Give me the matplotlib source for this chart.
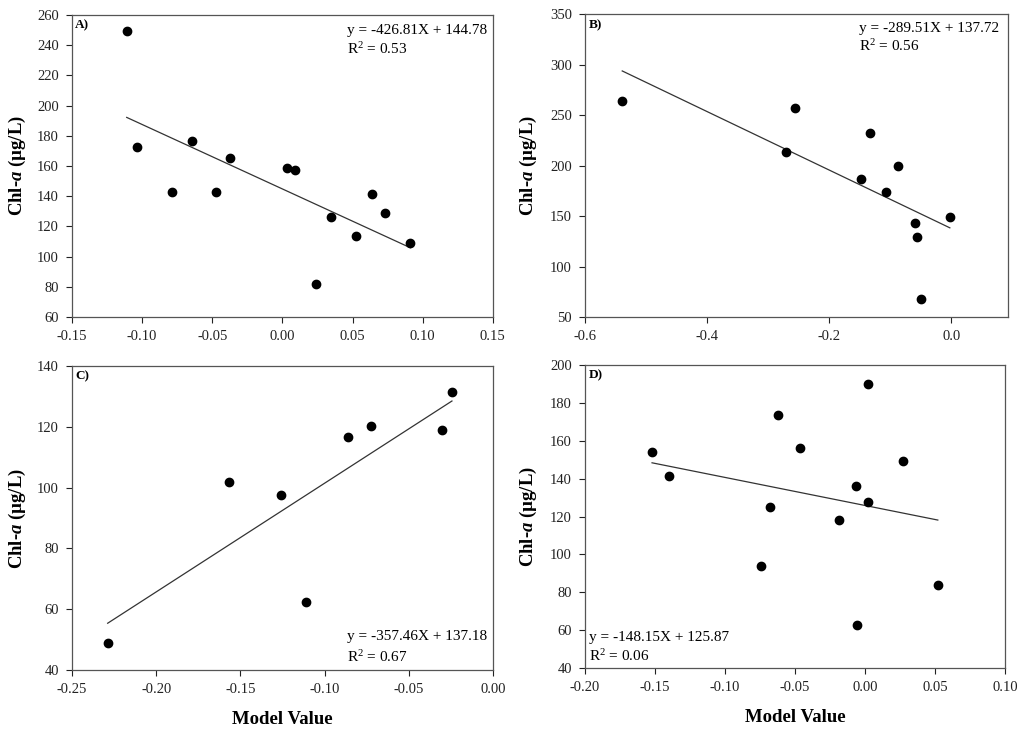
import numpy as np
import matplotlib
matplotlib.use("Agg")
import matplotlib.pyplot as plt

plt.rcParams['font.family'] = ['Liberation Serif', 'DejaVu Serif']
plt.rcParams['mathtext.fontset'] = 'custom'
plt.rcParams['mathtext.rm'] = 'Liberation Serif'
plt.rcParams['mathtext.it'] = 'Liberation Serif:italic:bold'
plt.rcParams['mathtext.bf'] = 'Liberation Serif:bold'

# panel A
xa = [-0.111, -0.1035, -0.0786, -0.0643, -0.047, -0.0377, 0.0036, 0.0088,
      0.0237, 0.0349, 0.0522, 0.0639, 0.0729, 0.0912]
ya = [249.5, 172.7, 142.5, 176.6, 142.9, 165.4, 158.6, 157.0,
      81.6, 126.4, 113.6, 141.4, 128.8, 109.0]
slope_a, icpt_a = -426.81, 144.78
eq_a = ["y = -426.81X + 144.78", "R$^2$ = 0.53"]

# panel B
xb = [-0.539, -0.270, -0.2564, -0.1474, -0.1337, -0.1074, -0.0871,
      -0.0586, -0.0553, -0.0488, -0.0022]
yb = [264.4, 213.9, 257.2, 186.5, 232.4, 173.6, 199.4,
      142.9, 129.6, 67.5, 149.5]
slope_b, icpt_b = -289.51, 137.72
eq_b = ["y = -289.51X + 137.72", "R$^2$ = 0.56"]

# panel C (label in the source says -357.46X, the drawn line rises)
xc = [-0.2288, -0.157, -0.1256, -0.1112, -0.0858, -0.0724, -0.0305, -0.0243]
yc = [48.9, 101.8, 97.6, 62.4, 116.8, 120.4, 119.1, 131.4]
slope_c, icpt_c = 357.46, 137.18
eq_c = ["y = -357.46X + 137.18", "R$^2$ = 0.67"]

# panel D
xd = [-0.1521, -0.1402, -0.0740, -0.0676, -0.0619, -0.0462, -0.0186,
      -0.0067, -0.0060, 0.0024, 0.0024, 0.0269, 0.0521]
yd = [154.2, 141.4, 93.7, 124.8, 173.4, 156.2, 118.3,
      136.3, 62.9, 190.1, 127.5, 149.1, 83.6]
slope_d, icpt_d = -148.15, 125.87
eq_d = ["y = -148.15X + 125.87", "R$^2$ = 0.06"]

fig = plt.figure(figsize=(10.24, 7.35), dpi=100)

panels = [
    # rect, x, y, slope, icpt, eq, label, xlim, xticks, ylim, yticks, eqpos, fmt, ylabel x
    ([0.0703, 0.5687, 0.411, 0.411], xa, ya, slope_a, icpt_a, eq_a, "A)",
     (-0.15, 0.15), np.arange(-0.15, 0.151, 0.05), (60, 260), np.arange(60, 261, 20),
     (0.653, 0.950, 0.887), "{:.2f}", -0.105),
    ([0.5713, 0.5687, 0.413, 0.412], xb, yb, slope_b, icpt_b, eq_b, "B)",
     (-0.6, 0.093), np.arange(-0.6, 0.01, 0.2), (50, 350), np.arange(50, 351, 50),
     (0.648, 0.954, 0.894), "{:.1f}", -0.109),
    ([0.0703, 0.0884, 0.411, 0.4136], xc, yc, slope_c, icpt_c, eq_c, "C)",
     (-0.25, 0.0), np.arange(-0.25, 0.001, 0.05), (40, 140), np.arange(40, 141, 20),
     (0.653, 0.109, 0.043), "{:.2f}", -0.105),
    ([0.5713, 0.0912, 0.410, 0.412], xd, yd, slope_d, icpt_d, eq_d, "D)",
     (-0.2, 0.1), np.arange(-0.2, 0.101, 0.05), (40, 200), np.arange(40, 201, 20),
     (0.010, 0.102, 0.040), "{:.2f}", -0.109),
]

for i, (rect, x, y, m, b, eq, lab, xl, xt, yl, yt, ep, fmt, ylx) in enumerate(panels):
    ax = fig.add_axes(rect)
    ax.plot(x, y, 'o', color='black', markersize=6, zorder=3)
    xx = np.array([min(x), max(x)])
    ax.plot(xx, m * xx + b, color='#333333', linewidth=0.9)
    ax.set_xlim(*xl)
    ax.set_ylim(*yl)
    ax.set_xticks(xt)
    ax.set_xticklabels([fmt.format(v) if abs(v) > 1e-9 else fmt.format(0.0) for v in xt])
    ax.set_yticks(yt)
    ax.tick_params(direction='out', length=4.5, width=0.8, labelsize=10.5, pad=5,
                   colors='#222222', top=False, right=False)
    for s in ax.spines.values():
        s.set_color('#555555')
        s.set_linewidth(0.9)
    ax.set_ylabel("Chl-$\\mathit{a}$ (µg/L)", fontsize=13.5, fontweight='bold')
    ax.yaxis.set_label_coords(ylx, 0.5)
    if i >= 2:
        ax.set_xlabel("Model Value", fontsize=13.5, fontweight='bold')
        ax.xaxis.set_label_coords(0.5, -0.135)
    ax.text(0.008, 0.965, lab, transform=ax.transAxes, fontsize=9.5,
            fontweight='bold', va='center', ha='left')
    ax.text(ep[0], ep[1], eq[0], transform=ax.transAxes, fontsize=11,
            va='center', ha='left')
    ax.text(ep[0], ep[2], eq[1], transform=ax.transAxes, fontsize=11,
            va='center', ha='left')

fig.savefig("out.png", dpi=100)
